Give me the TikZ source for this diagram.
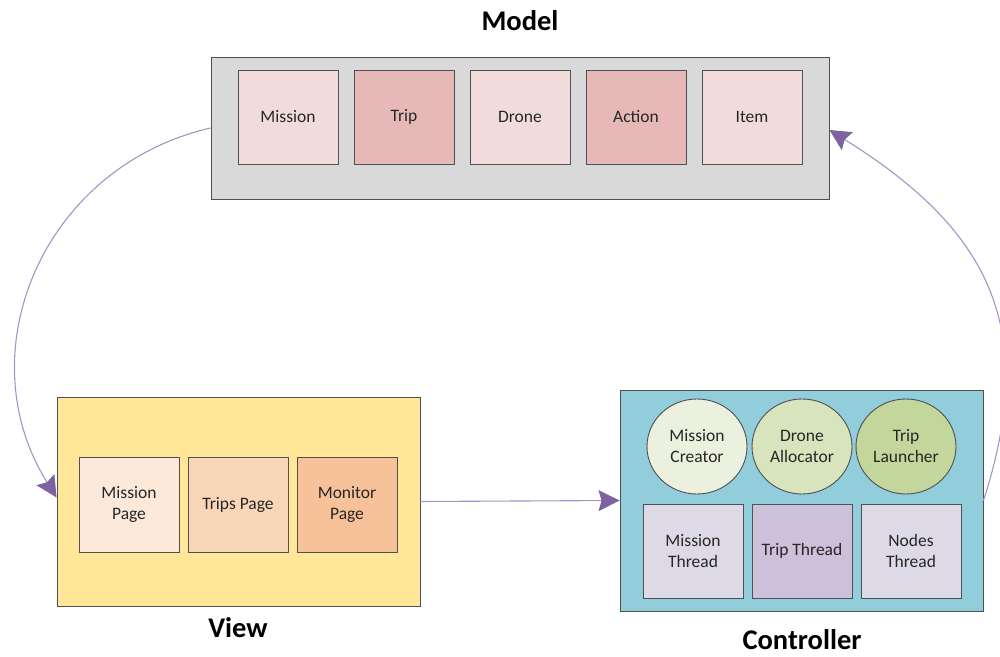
\documentclass[tikz,border=0pt]{standalone}
\usepackage{fontspec}
\setmainfont{Carlito}
\usetikzlibrary{arrows.meta,shapes.geometric}
\definecolor{grayfill}{HTML}{D9D9D9}
\definecolor{pinklight}{HTML}{F2DCDB}
\definecolor{pinkdark}{HTML}{E6B9B8}
\definecolor{yellowbg}{HTML}{FFE699}
\definecolor{peach1}{HTML}{FCE9DA}
\definecolor{peach2}{HTML}{F9D6B8}
\definecolor{peach3}{HTML}{F7C299}
\definecolor{bluebg}{HTML}{92CDDC}
\definecolor{green1}{HTML}{EBF1DE}
\definecolor{green2}{HTML}{D7E4BD}
\definecolor{green3}{HTML}{C3D69B}
\definecolor{lav1}{HTML}{DDD9E6}
\definecolor{lav2}{HTML}{CCC0DA}
\definecolor{arrowline}{HTML}{A792C6}
\definecolor{arrowhead}{HTML}{7F63A1}
\definecolor{edgegray}{HTML}{505050}
\tikzset{
  container/.style={draw=edgegray, line width=0.9pt, inner sep=0pt},
  item/.style={draw=edgegray, line width=0.9pt, minimum width=100pt, minimum height=94pt,
    inner sep=0pt, align=center, font=\fontsize{17.5}{21}\selectfont, text=black!85},
  ball/.style={draw=edgegray, line width=0.9pt, ellipse, minimum width=100pt, minimum height=95pt,
    inner sep=0pt, align=center, font=\fontsize{17.5}{21}\selectfont, text=black!85},
  title/.style={font=\fontsize{28.5}{32}\selectfont\bfseries, anchor=base, inner sep=0pt},
  flow/.style={draw=arrowline, line width=1.1pt,
    -{Stealth[length=21pt,width=21pt,inset=3pt,fill=arrowhead,color=arrowhead]}}
}
\begin{document}
\begin{tikzpicture}[x=1pt,y=1pt]
\useasboundingbox (0,0) rectangle (1000,656);
% Model
\node[container, fill=grayfill, minimum width=618pt, minimum height=142pt] (model) at (520,528) {};
\node[item, fill=pinklight] (mission) at (288,539) {Mission};
\node[item, fill=pinkdark] (trip) at (404,539) {Trip};
\node[item, fill=pinklight] (drone) at (520,539) {Drone};
\node[item, fill=pinkdark] (action) at (636,539) {Action};
\node[item, fill=pinklight] (itm) at (752,539) {Item};
\node[title] (modeltitle) at (520,625) {Model};
% View
\node[container, fill=yellowbg, minimum width=363pt, minimum height=209pt] (view) at (238.5,154.5) {};
\node[item, fill=peach1, minimum height=95pt] (mpage) at (129,151.5) {Mission\\Page};
\node[item, fill=peach2, minimum height=95pt] (tpage) at (238,151.5) {Trips Page};
\node[item, fill=peach3, minimum height=95pt] (monpage) at (347,151.5) {Monitor\\Page};
\node[title] (viewtitle) at (238,19) {View};
% Controller
\node[container, fill=bluebg, minimum width=363pt, minimum height=221pt] (ctrl) at (801.5,155.5) {};
\node[ball, fill=green1] (mcreator) at (697,209.5) {Mission\\Creator};
\node[ball, fill=green2] (dalloc) at (802,209.5) {Drone\\Allocator};
\node[ball, fill=green3] (tlaunch) at (906,209.5) {Trip\\Launcher};
\node[item, fill=lav1] (mthread) at (693,105) {Mission\\Thread};
\node[item, fill=lav2] (tthread) at (802,105) {Trip Thread};
\node[item, fill=lav1] (nthread) at (911,105) {Nodes\\Thread};
\node[title] (ctrltitle) at (802,6.5) {Controller};
% Connectors
\draw[flow] (model.west) to[out=193,in=122,looseness=1.1] ([yshift=4pt]view.west);
\draw[flow] (view.east) -- (ctrl.west);
\draw[flow] (ctrl.east) to[out=72,in=-32,looseness=1.18] ([yshift=-2pt]model.east);
\end{tikzpicture}
\end{document}
